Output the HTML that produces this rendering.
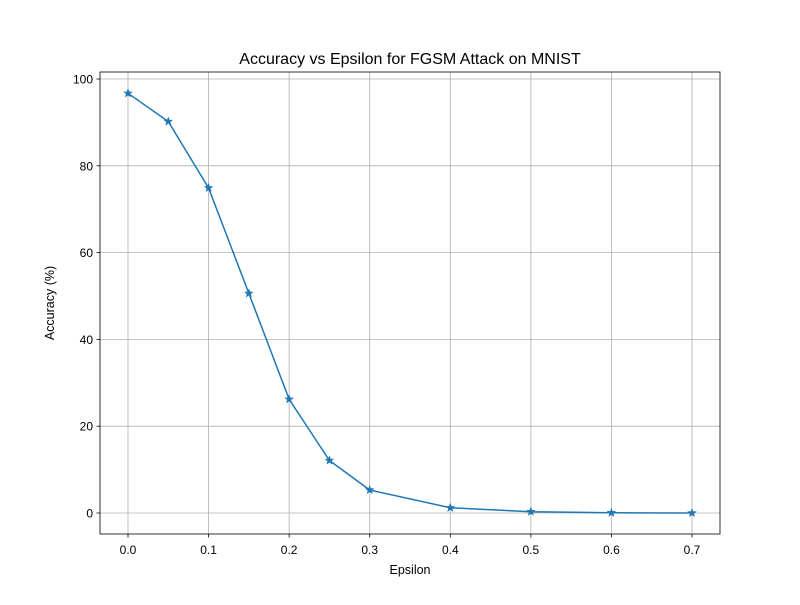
<!DOCTYPE html>
<html><head><meta charset="utf-8"><style>
body{margin:0;background:#fff}
svg text{font-family:"Liberation Sans","DejaVu Sans",sans-serif;fill:#000}
</style></head><body>
<svg id="c" width="800" height="600" xmlns="http://www.w3.org/2000/svg"></svg>
<script>
const epsilons=[0,0.05,0.1,0.15,0.2,0.25,0.3,0.4,0.5,0.6,0.7];
const accuracy=[96.7,90.2,74.9,50.6,26.2,12.1,5.3,1.2,0.3,0.05,0.0];
const xTicks=[0,0.1,0.2,0.3,0.4,0.5,0.6,0.7];
const yTicks=[0,20,40,60,80,100];
const NS="http://www.w3.org/2000/svg";
const svg=document.getElementById('c');
const L=100,R=720,T=72,B=534;
const xs=v=>128+(v-0)*(692-128)/0.7;
const ys=v=>513-v*(513-79)/100;
function mk(tag,attrs,parent){const e=document.createElementNS(NS,tag);for(const k in attrs)e.setAttribute(k,attrs[k]);(parent||svg).appendChild(e);return e;}
const grid=mk('g',{});


xTicks.forEach(t=>{mk('line',{x1:xs(t),x2:xs(t),y1:T,y2:B,stroke:'#b0b0b0','stroke-width':0.8},grid);});
yTicks.forEach(t=>{mk('line',{x1:L,x2:R,y1:ys(t),y2:ys(t),stroke:'#b0b0b0','stroke-width':0.8},grid);});
const xa=mk('g',{});


xTicks.forEach(t=>{mk('line',{x1:xs(t),x2:xs(t),y1:B,y2:B+3.5,stroke:'#000','stroke-width':0.8},xa);
const tx=mk('text',{x:xs(t),y:B+20,'text-anchor':'middle','font-size':12},xa);tx.textContent=t.toFixed(1);});
const ya=mk('g',{});


yTicks.forEach(t=>{mk('line',{x1:L,x2:L-3.5,y1:ys(t),y2:ys(t),stroke:'#000','stroke-width':0.8},ya);
const tx=mk('text',{x:L-7,y:ys(t)+4.5,'text-anchor':'end','font-size':12},ya);tx.textContent=t;});
const fr=mk('rect',{x:L,y:T,width:R-L,height:B-T,fill:'none',stroke:'#000','stroke-width':0.8});


const pts=epsilons.map((e,i)=>xs(e)+','+ys(accuracy[i])).join(' ');
const pl=mk('polyline',{points:pts,fill:'none',stroke:'#1f77b4','stroke-width':1.5});


function star(cx,cy,r){let p=[];for(let i=0;i<10;i++){const a=-Math.PI/2+i*Math.PI/5;const rr=i%2?r*0.4:r;p.push((cx+rr*Math.cos(a)).toFixed(2)+','+(cy+rr*Math.sin(a)).toFixed(2));}return p.join(' ');}
epsilons.forEach((e,i)=>{const s=mk('polygon',{points:star(xs(e),ys(accuracy[i]),4.5),fill:'#1f77b4',stroke:'#1f77b4','stroke-width':0.5});

});
const ti=mk('text',{x:410,y:64,'text-anchor':'middle','font-size':16});ti.textContent='Accuracy vs Epsilon for FGSM Attack on MNIST';


const xt=mk('text',{x:410,y:574,'text-anchor':'middle','font-size':12.5});xt.textContent='Epsilon';


const yt=mk('text',{x:54,y:303,'text-anchor':'middle','font-size':12.5,transform:'rotate(-90 54 303)'});yt.textContent='Accuracy (%)';


</script>
</body></html>
